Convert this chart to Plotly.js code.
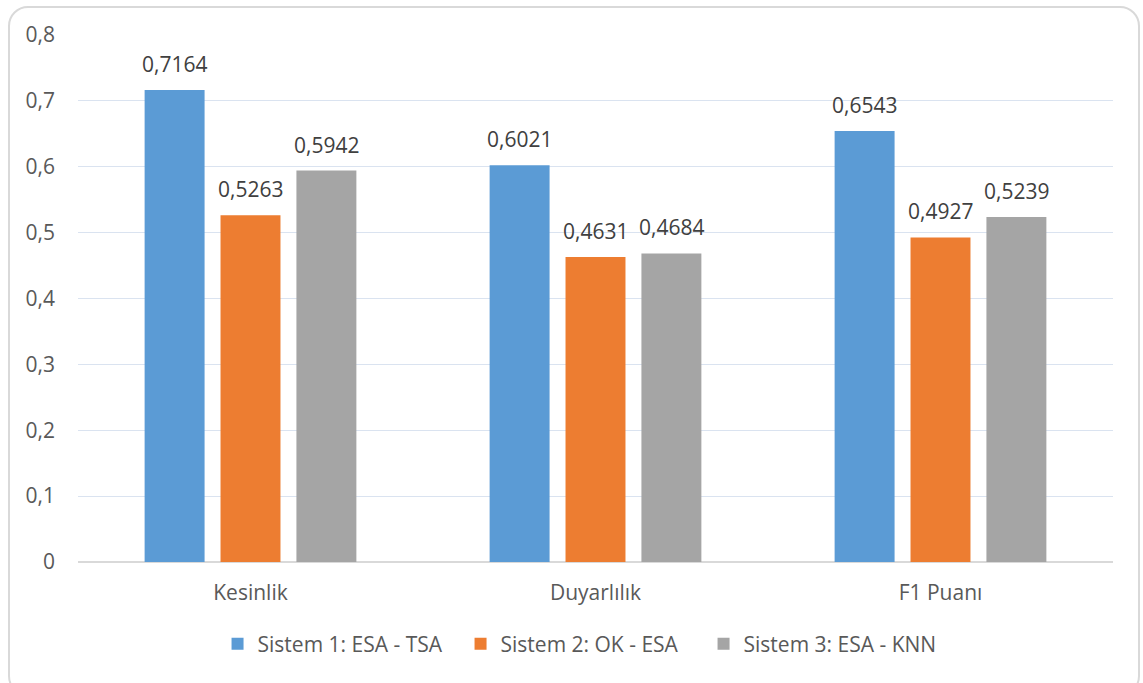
<!DOCTYPE html>
<html>
<head>
<meta charset="utf-8">
<script src="https://cdn.plot.ly/plotly-3.0.1.min.js"></script>
<style>
  html, body { margin: 0; padding: 0; background: #ffffff; overflow: hidden; }
  #frame {
    position: absolute; left: 8px; top: 6px; width: 1132px; height: 690px;
    border: 2px solid #d9d9d9; border-radius: 20px; box-sizing: border-box;
  }
  #chart { position: absolute; left: 0; top: 0; width: 1143px; height: 683px; }
</style>
</head>
<body>
<div id="frame"></div>
<div id="chart"></div>
<script>
const categories = ['Kesinlik', 'Duyarlılık', 'F1 Puanı'];
const seriesNames = ['Sistem 1: ESA - TSA', 'Sistem 2: OK - ESA', 'Sistem 3: ESA - KNN'];
const sistem1 = [0.7164, 0.6021, 0.6543];
const sistem2 = [0.5263, 0.4631, 0.4927];
const sistem3 = [0.5942, 0.4684, 0.5239];
const colors = ['#5b9bd5', '#ed7d31', '#a5a5a5'];

const font = { family: 'Open Sans, sans-serif', size: 21, color: '#595959' };
const labelFont = { family: 'Open Sans, sans-serif', size: 21, color: '#404040' };

const bargap = 0.34;
const series = [sistem1, sistem2, sistem3];
const slot = (1 - bargap) / series.length;

const traces = series.map((vals, i) => ({
  type: 'bar',
  name: seriesNames[i],
  x: categories,
  y: vals,
  marker: { color: colors[i] },
  hoverinfo: 'x+y+name'
}));

// value labels above each bar, placed at the centre of its slot in the group
const annotations = [];
series.forEach((vals, s) => {
  vals.forEach((v, c) => {
    annotations.push({
      xref: 'x', yref: 'y',
      x: c + (s - (series.length - 1) / 2) * slot,
      y: v,
      text: v.toFixed(4).replace('.', ','),
      showarrow: false,
      yanchor: 'middle',
      yshift: 26,
      font: labelFont
    });
  });
});

const layout = {
  width: 1143,
  height: 683,
  paper_bgcolor: 'rgba(0,0,0,0)',
  plot_bgcolor: 'rgba(0,0,0,0)',
  separators: ',.',
  font: font,
  margin: { l: 78, r: 30, t: 35, b: 121 },
  barmode: 'group',
  bargap: bargap,
  bargroupgap: 0.21,
  showlegend: true,
  legend: {
    orientation: 'h',
    x: 0.487, xanchor: 'center',
    y: -0.156, yanchor: 'middle',
    font: font,
    itemwidth: 20,
    entrywidth: 198,
    traceorder: 'normal'
  },
  annotations: annotations,
  xaxis: {
    type: 'category',
    showgrid: false,
    showline: false,
    ticks: '',
    tickfont: font,
    ticklabelstandoff: 16
  },
  yaxis: {
    range: [0, 0.8],
    dtick: 0.1,
    tick0: 0,
    showgrid: true,
    gridcolor: '#dae3f0',
    gridwidth: 1,
    zeroline: true,
    zerolinecolor: '#d9d9d9',
    zerolinewidth: 2,
    showline: false,
    ticks: '',
    tickfont: font,
    ticklabelstandoff: 22
  }
};

Plotly.newPlot('chart', traces, layout, { displayModeBar: false, staticPlot: true });
</script>
</body>
</html>
